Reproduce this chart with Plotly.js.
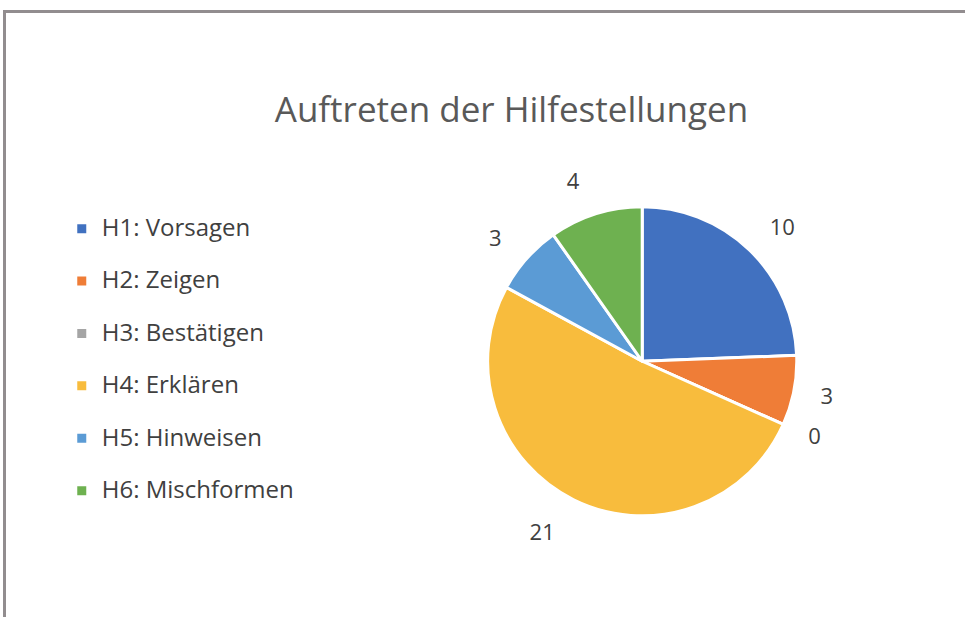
<!DOCTYPE html>
<html>
<head>
<meta charset="utf-8">
<script src="https://cdn.plot.ly/plotly-3.0.1.min.js"></script>
<style>
  html, body { margin: 0; padding: 0; background: #ffffff; }
  #chart { width: 965px; height: 617px; position: absolute; left: 0; top: 0; }
  #frame { position: absolute; left: 3px; top: 10px; width: 970px; height: 620px;
           border-top: 3px solid #928d8f; border-left: 3px solid #928d8f; pointer-events: none; }
</style>
</head>
<body>
<div id="chart"></div>
<div id="frame"></div>
<script>
const categories = ["H1: Vorsagen", "H2: Zeigen", "H3: Bestätigen", "H4: Erklären", "H5: Hinweisen", "H6: Mischformen"];
const values = [10, 3, 0, 21, 3, 4];
const colors = ["#4171c0", "#ef7d37", "#a5a5a5", "#f8bc3d", "#5b9bd5", "#6eb150"];
const chartTitle = "Auftreten der Hilfestellungen";

const FONT = "'Open Sans', Lato, sans-serif";

// main pie (slices + legend)
const pieTrace = {
  type: "pie",
  labels: categories.map(c => '<span style="font-size:24px">' + c + '</span><br> '),
  values: values,
  sort: false,
  direction: "clockwise",
  rotation: 0,
  marker: { colors: colors, line: { color: "#ffffff", width: 3 } },
  textinfo: "none",
  hoverinfo: "label+value",
  domain: { x: [0.505, 0.826], y: [0.164, 0.665] },
  showlegend: true
};

// transparent companion pie, slightly larger, carrying the data labels further out
const labelTrace = {
  type: "pie",
  labels: categories,
  values: values,
  sort: false,
  direction: "clockwise",
  rotation: 0,
  marker: { colors: categories.map(() => "rgba(0,0,0,0)"), line: { width: 0 } },
  textinfo: "value",
  textposition: "outside",
  outsidetextfont: { family: FONT, size: 22, color: "#404040" },
  hoverinfo: "skip",
  domain: { x: [0.4800, 0.8470], y: [0.130, 0.700] },
  showlegend: false
};

const layout = {
  width: 965, height: 617,
  margin: { l: 0, r: 0, t: 0, b: 0 },
  paper_bgcolor: "#ffffff",
  title: {
    text: chartTitle,
    font: { family: FONT, size: 35, color: "#595959" },
    x: 0.530, xanchor: "center",
    y: 0.822, yanchor: "middle"
  },
  legend: {
    x: 0.064, xanchor: "left",
    y: 0.66, yanchor: "top",
    valign: "top",
    font: { family: FONT, size: 19, color: "#404040" },
    bgcolor: "rgba(0,0,0,0)"
  },
  showlegend: true
};

Plotly.newPlot("chart", [pieTrace, labelTrace], layout, { displayModeBar: false, staticPlot: true });
</script>
</body>
</html>
